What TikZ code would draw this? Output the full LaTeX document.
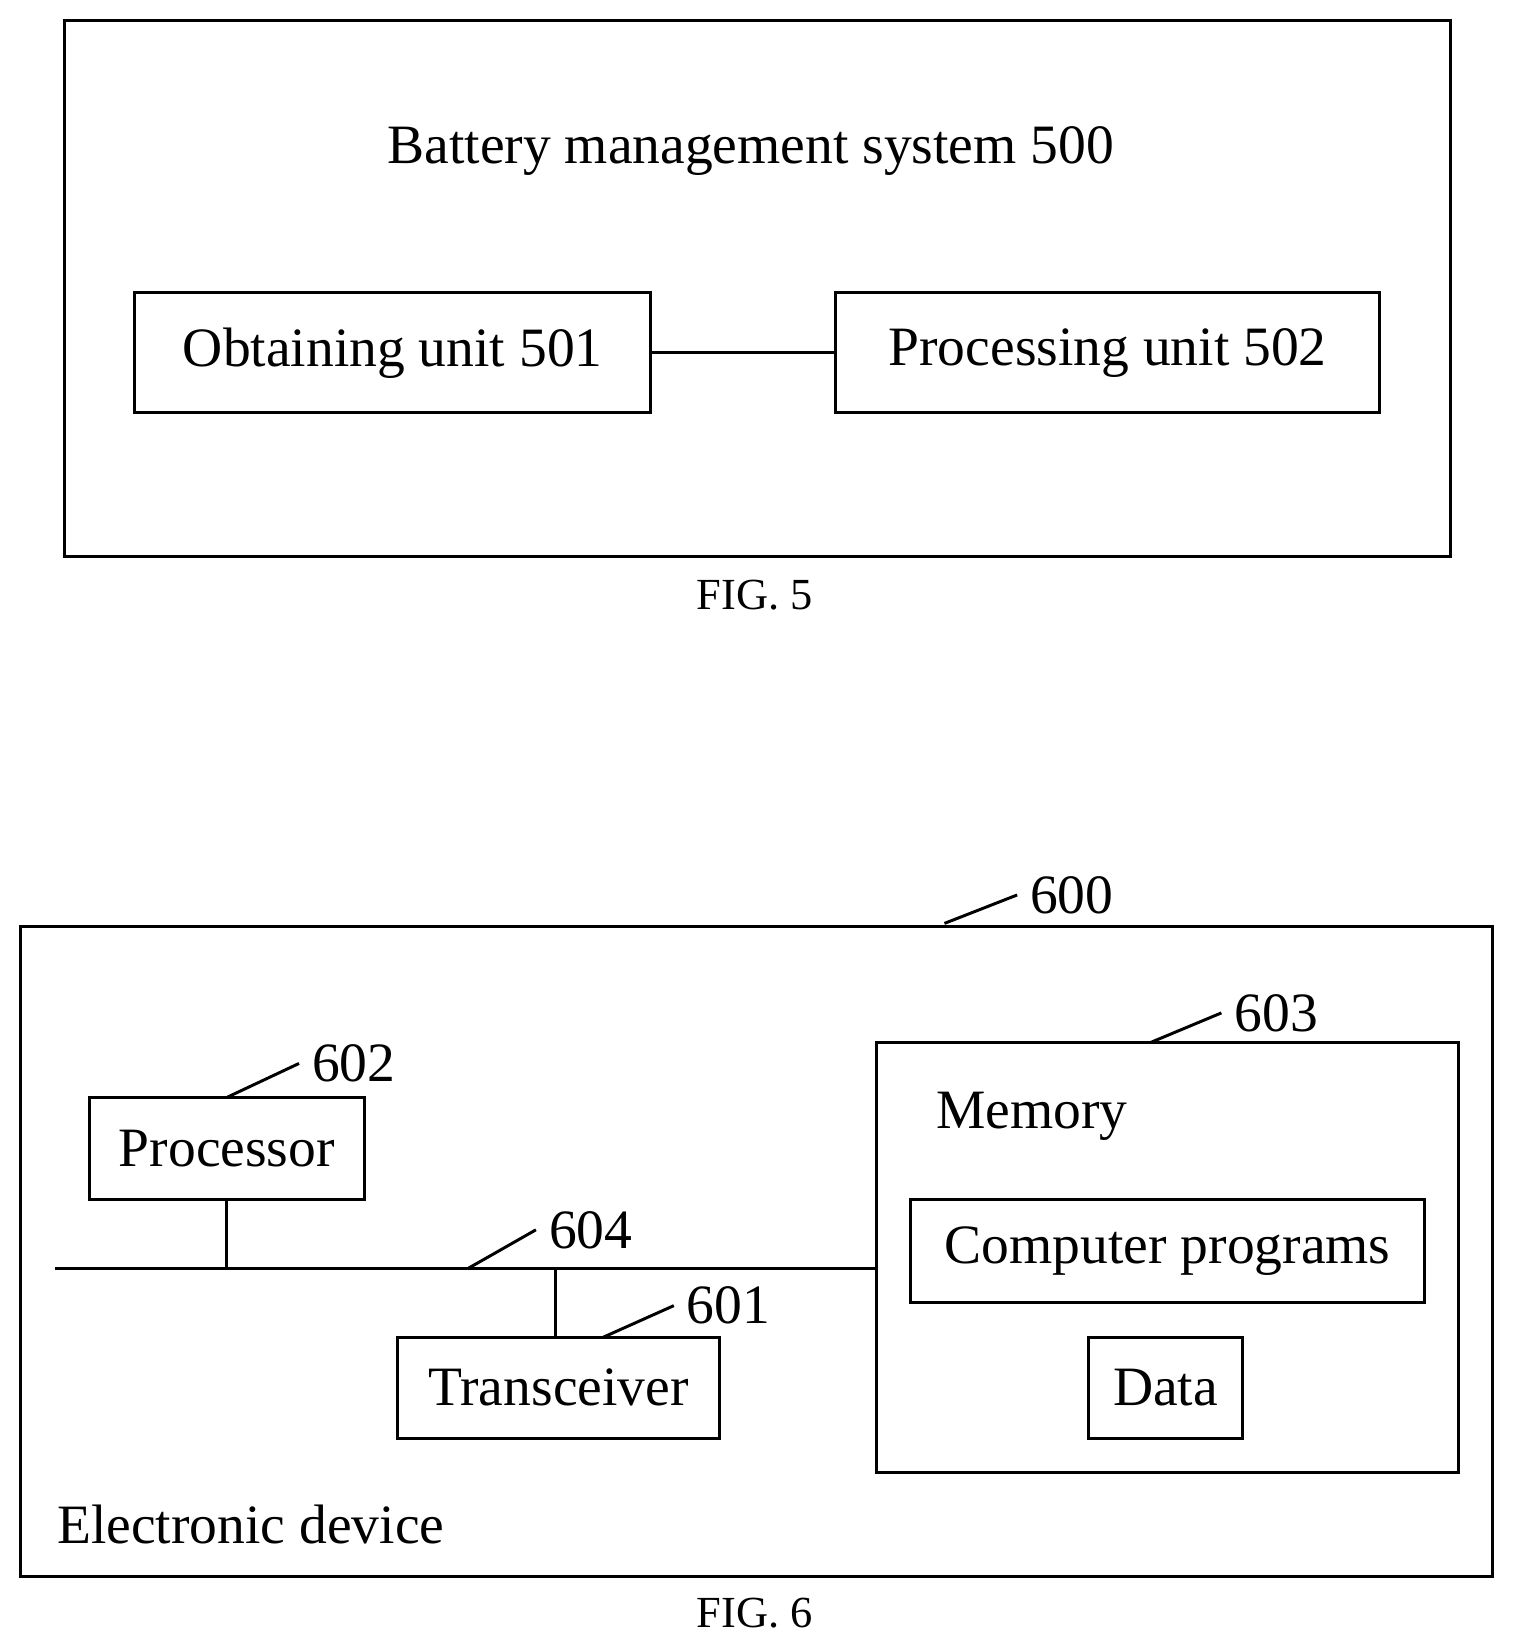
\documentclass[tikz,border=0pt]{standalone}
\usepackage{fontspec}
\setmainfont{Liberation Serif}
\begin{document}
\begin{tikzpicture}[
    x=0.01cm, y=-0.01cm,
    font=\fontsize{15}{18}\selectfont,
    % Node styles:
    block/.style={rectangle, draw, thick, inner sep=0pt},
    lbl/.style={font=\fontsize{12}{14}\selectfont},
    % Line style:
    line/.style={thick},
]
\useasboundingbox (0,0) rectangle (1440,1569);

% --- FIG. 5 ---
\node[block, minimum width=13.15cm, minimum height=5.08cm] (bms) at (719.5,274) {};
\node at (713,143) (bmstext) {Battery management system 500};
\node[block, minimum width=4.90cm, minimum height=1.14cm] (obtain) at (373,335) {Obtaining unit 501};
\node[block, minimum width=5.16cm, minimum height=1.14cm] (proc) at (1052,335) {Processing unit 502};
\draw[line] (obtain) -- (proc);
\node[lbl] (fig5) at (717,565) {FIG. 5};

% --- FIG. 6 ---
\node[block, minimum width=13.97cm, minimum height=6.17cm] (dev) at (718.5,1188.5) {};
\node[anchor=west] (devtext) at (42,1448) {Electronic device};
\node[block, minimum width=5.52cm, minimum height=4.08cm] (mem) at (1109,1194) {};
\node (memtext) at (980,1060) {Memory};
\node[block, minimum width=4.88cm, minimum height=0.98cm] (prog) at (1109,1188) {Computer programs};
\node[block, minimum width=1.46cm, minimum height=0.96cm] (data) at (1107,1318) {Data};
\node[block, minimum width=2.61cm, minimum height=0.97cm] (cpu) at (215.5,1090.5) {Processor};
\node[block, minimum width=3.05cm, minimum height=0.96cm] (trx) at (530.5,1318) {Transceiver};

% bus
\coordinate (busl) at (52,1205);
\coordinate (busr) at (mem.west |- busl);
\coordinate (trxtop) at (528,1270);
\draw[line] (busl) -- (busr);
\draw[line] (cpu.south) -- (cpu.south |- busl);
\draw[line] (trxtop) -- (trxtop |- busl);

% reference numerals
\node (n600) at (1018,850) {600};
\draw[line] (897,877) -- (n600.west);
\node (n603) at (1212,962) {603};
\draw[line] (1093,990) -- (n603.west);
\node (n602) at (336,1010) {602};
\draw[line] (216,1042) -- (n602.west);
\node (n604) at (561,1168) {604};
\draw[line] (444,1205) -- (n604.west);
\node (n601) at (692,1240) {601};
\draw[line] (573,1270) -- (n601.west);

\node[lbl] (fig6) at (717,1532) {FIG. 6};
\end{tikzpicture}
\end{document}
